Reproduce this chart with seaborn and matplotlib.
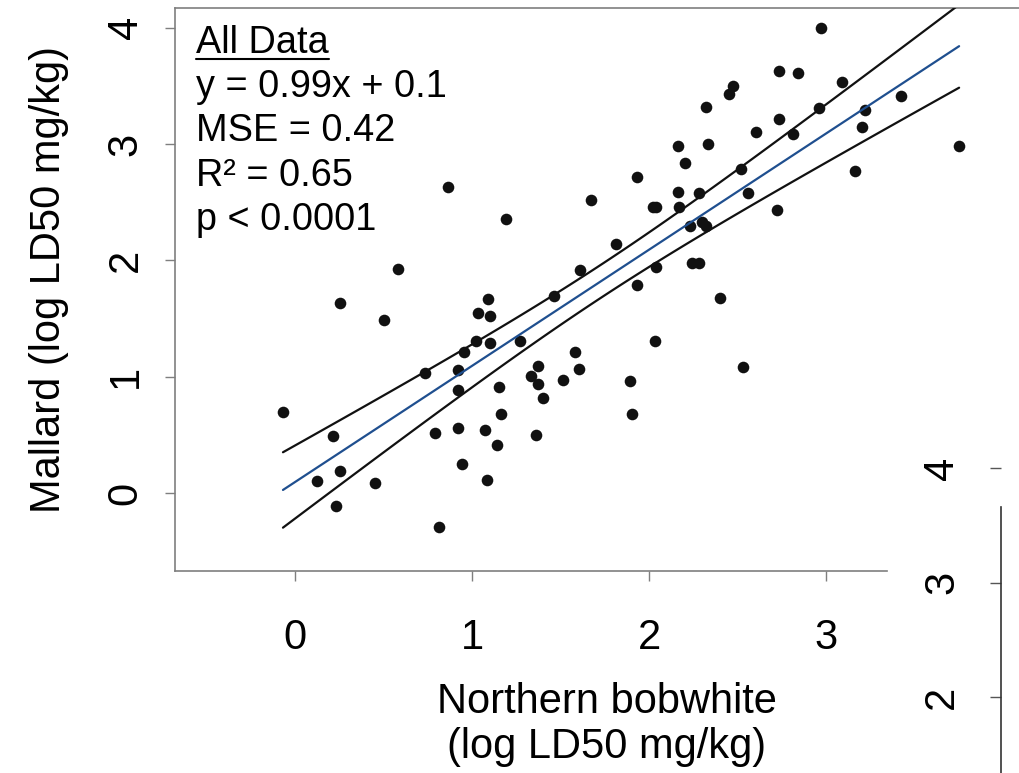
import matplotlib
matplotlib.use("Agg")
import matplotlib.pyplot as plt
import numpy as np
import pandas as pd
import seaborn as sns
from matplotlib.lines import Line2D

# log LD50 (mg/kg)
bobwhite = [-0.07, 0.12, 0.21, 0.23, 0.25, 0.25, 0.45, 0.50, 0.58, 0.73,
            0.79, 0.81, 0.86, 0.92, 0.92, 0.92, 0.94, 0.95, 1.02, 1.03,
            1.07, 1.08, 1.09, 1.10, 1.10, 1.14, 1.15, 1.16, 1.19, 1.27,
            1.33, 1.37, 1.36, 1.37, 1.40, 1.46, 1.51, 1.58, 1.60, 1.61,
            1.67, 1.81, 1.89, 1.90, 1.93, 1.93, 2.02, 2.03, 2.04, 2.04,
            2.16, 2.16, 2.17, 2.20, 2.23, 2.24, 2.28, 2.28, 2.30, 2.32,
            2.32, 2.33, 2.40, 2.45, 2.47, 2.52, 2.53, 2.56, 2.60, 2.72,
            2.73, 2.73, 2.81, 2.84, 2.96, 2.97, 3.09, 3.16, 3.20, 3.22,
            3.42, 3.75]
mallard = [0.70, 0.10, 0.49, -0.11, 0.19, 1.63, 0.09, 1.49, 1.93, 1.03,
           0.52, -0.29, 2.63, 1.06, 0.89, 0.56, 0.25, 1.21, 1.31, 1.55,
           0.54, 0.11, 1.67, 1.52, 1.29, 0.41, 0.91, 0.68, 2.36, 1.31,
           1.01, 1.09, 0.50, 0.94, 0.82, 1.69, 0.97, 1.21, 1.07, 1.92,
           2.52, 2.14, 0.96, 0.68, 1.79, 2.72, 2.46, 1.31, 2.46, 1.94,
           2.98, 2.59, 2.46, 2.84, 2.30, 1.98, 2.58, 1.98, 2.33, 2.30,
           3.32, 3.00, 1.68, 3.43, 3.50, 2.79, 1.08, 2.58, 3.10, 2.43,
           3.63, 3.22, 3.09, 3.61, 3.31, 4.00, 3.53, 2.77, 3.15, 3.29,
           3.41, 2.98]

stats_lines = ["y = 0.99x + 0.1", "MSE = 0.42", "R² = 0.65", "p < 0.0001"]
x_ticks = [0, 1, 2, 3]
y_ticks = [0, 1, 2, 3, 4]
side_ticks = [2, 3, 4]

sns.set_theme(style="ticks")
plt.rcParams["font.family"] = ["Liberation Sans", "DejaVu Sans"]
plt.rcParams["text.color"] = "black"
plt.rcParams["axes.labelcolor"] = "black"

df = pd.DataFrame({"bobwhite": bobwhite, "mallard": mallard})

W, H = 1020, 773
fig = plt.figure(figsize=(W / 100, H / 100), dpi=100)


def box(l, t, r, b):
    # pixel box -> figure fraction
    return [l / W, 1 - b / H, (r - l) / W, (b - t) / H]


ax = fig.add_axes(box(175, 8, 1071, 571))
grey = "#7f7f7f"

sns.regplot(data=df, x="bobwhite", y="mallard", ax=ax, ci=None,
            scatter_kws={"s": 70, "color": "#111111", "linewidths": 0, "alpha": 1},
            line_kws={"color": "#1f4f8f", "lw": 1.6, "zorder": 3})

# 95% confidence band on the mean, drawn as lines
x = df["bobwhite"].to_numpy()
y = df["mallard"].to_numpy()
n = len(x)
slope, icpt = np.polyfit(x, y, 1)
resid = y - (slope * x + icpt)
s = np.sqrt((resid ** 2).sum() / (n - 2))
sxx = ((x - x.mean()) ** 2).sum()
xg = np.linspace(x.min(), x.max(), 100)
half = 1.99 * s * np.sqrt(1 / n + (xg - x.mean()) ** 2 / sxx)
fit = slope * xg + icpt
ax.plot(xg, fit + half, color="#111111", lw=1.6, zorder=3)
ax.plot(xg, fit - half, color="#111111", lw=1.6, zorder=3)

ax.set_xlim(-0.68, -0.68 + 896 / 177)
ax.set_ylim(-0.67, 4.17)
ax.set_xticks(x_ticks)
ax.set_yticks(y_ticks)
ax.tick_params(axis="both", direction="out", length=7, width=1, color=grey,
               labelsize=30, labelcolor="black")
ax.tick_params(axis="x", pad=27)
ax.tick_params(axis="y", pad=14, labelrotation=90)
for lab in ax.get_yticklabels():
    lab.set_va("center")

for side in ["left", "bottom", "top"]:
    ax.spines[side].set_color(grey)
    ax.spines[side].set_linewidth(1.2)
ax.spines["right"].set_visible(False)
ax.spines["bottom"].set_bounds(-0.68, 3.34)

ax.set_xlabel("Northern bobwhite\n(log LD50 mg/kg)", fontsize=30, linespacing=1.15)
ax.set_ylabel("Mallard (log LD50 mg/kg)", fontsize=30)
ax.xaxis.set_label_coords(0.482, -0.197)
ax.yaxis.set_label_coords(-0.118, 0.517)

# annotation block
t0 = fig.text(196 / W, 1 - 53 / H, "All Data", fontsize=27.3, va="baseline", ha="left")
for i, line in enumerate(stats_lines):
    fig.text(196 / W, 1 - (97 + 44.3 * i) / H, line, fontsize=27.3,
             va="baseline", ha="left")
fig.canvas.draw()
bb = t0.get_window_extent().transformed(fig.transFigure.inverted())
uy = 1 - 59 / H
fig.add_artist(Line2D([bb.x0, bb.x1], [uy, uy], color="black", lw=1.5,
                      transform=fig.transFigure))

# neighbouring panel, cut off at the right edge
ax2 = fig.add_axes(box(1001, 430, 1060, 900))
ax2.set_facecolor("none")
ax2.set_ylim(4 - (900 - 468) / 114.5, 4 + 38 / 114.5)
ax2.set_xticks([])
ax2.set_yticks(side_ticks)
ax2.tick_params(axis="y", direction="out", length=8, width=1, color="#555555",
                labelsize=30, pad=20, labelrotation=90, labelcolor="black")
for lab in ax2.get_yticklabels():
    lab.set_va("center")
for side in ["right", "top", "bottom"]:
    ax2.spines[side].set_visible(False)
ax2.spines["left"].set_color("#333333")
ax2.spines["left"].set_linewidth(1.2)
ax2.spines["left"].set_bounds(4 - (900 - 468) / 114.5, 4 - 39 / 114.5)

fig.savefig("out.png", dpi=100)
